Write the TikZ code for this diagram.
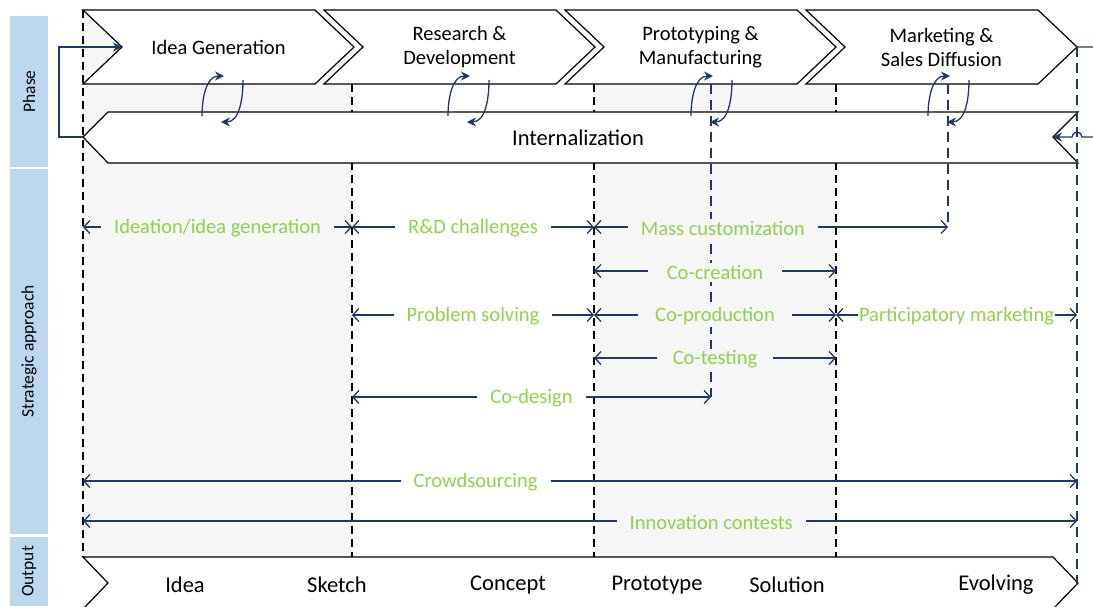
\documentclass[tikz,border=0pt]{standalone}
\usepackage{fontspec}
\setmainfont{Carlito}
\usetikzlibrary{arrows.meta}

\definecolor{navy}{RGB}{32,56,100}
\definecolor{leaf}{RGB}{146,208,80}
\definecolor{sidebar}{RGB}{189,215,238}
\definecolor{bandgray}{RGB}{246,246,246}

\begin{document}
\begin{tikzpicture}[x=1pt,y=1pt,
        font=\fontsize{20.5}{24}\selectfont,
        phasebox/.style={draw=black,line width=1.2pt,fill=white},
        sidelbl/.style={fill=sidebar,rotate=90,minimum height=38pt,inner sep=0,
            font=\fontsize{17.5}{19}\selectfont},
        divider/.style={line width=1.2pt,dash pattern=on 8pt off 5pt},
        link/.style={navy,line width=1.3pt,dash pattern=on 10pt off 6pt},
        loop/.style={navy,line width=1.3pt,-{Stealth[length=9pt,width=9pt]}},
        strat/.style={navy,line width=1.3pt,
            {Straight Barb[length=6pt,width=13pt]}-{Straight Barb[length=6pt,width=13pt]}},
        lbl/.style={text=leaf,fill=white,inner xsep=13pt,inner ysep=2pt,yshift=-1.5pt},
        lblg/.style={lbl,fill=bandgray},
        ]
        \useasboundingbox (0,0) rectangle (1093,-606);
        \clip (0,0) rectangle (1093,-606);

        % shaded columns and dividers
        \fill[bandgray] (83,-10) rectangle (352,-557);
        \fill[bandgray] (594,-84) rectangle (836,-557);
        \draw[divider] (83,-10) -- (83,-557);
        \foreach \x in {352,594,836}
            \draw[divider] (\x,-84) -- (\x,-557);

        % row headers
        \node[sidelbl,minimum width=151pt] (hphase) at (29,-91.5) {Phase};
        \node[sidelbl,minimum width=365pt] (hstrat) at (29,-351.5) {Strategic approach};
        \node[sidelbl,minimum width=69pt] (hout) at (29,-571.5) {Output};

        % phases
        \foreach \i/\txt in {1/{Idea Generation},2/{Research \&\\Development},
                3/{Prototyping \&\\Manufacturing},4/{Marketing \&\\Sales Diffusion}}{
            \pgfmathsetmacro\l{83+241*(\i-1)}
            \draw[phasebox] (\l,-10) -- ++(232,0) -- ++(39,-37) -- ++(-39,-37)
                -- ++(-232,0) -- ++(39,37) -- cycle;
            \coordinate (p\i-in) at (\l+39,-47);
            \coordinate (p\i-out) at (\l+271,-47);
            \node[align=center] (p\i) at (\l+135.5,-47.5) {\txt};
        }

        \draw[phasebox] (83,-137) -- (108,-112) -- (1078,-112) -- (1053,-137)
            -- (1078,-163) -- (108,-163) -- cycle;
        \coordinate (int-in) at (1053,-137);
        \coordinate (int-out) at (83,-137);
        \node[font=\fontsize{22.5}{24}\selectfont] (intl) at (578,-138) {Internalization};

        % outputs
        \draw[phasebox] (83,-557) -- (1053,-557) -- (1078,-583) -- (1053,-609)
            -- (83,-609) -- (108,-583) -- cycle;
        \foreach \n/\x/\txt in {o1/185/Idea,o2/337/Sketch,o3/508/Concept,
                o4/657/Prototype,o5/787/Solution,o6/996/Evolving}
            \node[font=\fontsize{22.5}{24}\selectfont] (\n) at (\x,-585) {\txt};

        % exchange between each phase and internalization
        \foreach \i/\c in {1/222,2/468,3/711,4/948}{
            \coordinate (m\i) at (\c,-84);
            \path (\c-20,-116) coordinate (up\i) (\c+2,-76) coordinate (upt\i)
                  (\c+21,-80) coordinate (dn\i) (\c-1,-122) coordinate (dnt\i);
            \draw[loop] (up\i) to[out=90,in=180] (upt\i);
            \draw[loop] (dn\i) to[out=-90,in=0] (dnt\i);
        }

        % columns and rows of the strategies
        \foreach \n/\x in {k0/83,k1/352,k2/594,k3/836,k4/1077}
            \coordinate (\n) at (\x,0);
        \foreach \n/\y in {r1/227,r2/271,r3/315,r4/358,r5/397,r6/481,r7/521}
            \coordinate (\n) at (0,-\y);

        \draw[link] (m3) -- (m3|-r5);
        \draw[link] (m4) -- (m4|-r1);
        \draw[link] (p4-out) -- (k4|-o6);

        \draw[strat] (k0|-r1) -- node[lblg] {Ideation/idea generation} (k1|-r1);
        \draw[strat] (k1|-r1) -- node[lbl] {R\&D challenges} (k2|-r1);
        \draw[strat] (k2|-r1) -- node[lblg,pos=0.364] {Mass customization} (m4|-r1);
        \draw[strat] (k2|-r2) -- node[lblg,inner xsep=19pt] {Co-creation} (k3|-r2);
        \draw[strat] (k1|-r3) -- node[lbl] {Problem solving} (k2|-r3);
        \draw[strat] (k2|-r3) -- node[lblg,inner xsep=17pt] {Co-production} (k3|-r3);
        \draw[strat] (k3|-r3) -- node[lbl,inner xsep=1pt] {Participatory marketing} (k4|-r3);
        \draw[strat] (k2|-r4) -- node[lblg,inner xsep=16pt] {Co-testing} (k3|-r4);
        \draw[strat] (k1|-r5) -- node[lbl] {Co-design} (m3|-r5);
        \draw[strat] (k0|-r6) -- node[lbl,pos=0.395] {Crowdsourcing} (k4|-r6);
        \draw[strat] (k0|-r7) -- node[lblg,pos=0.632] {Innovation contests} (k4|-r7);

        % feedback loops
        \draw[loop] (int-out) -- ++(-24,0) |- (p1-in);
        \draw[loop] (p4-out) -- (1107,-47) -- (1107,-137) -- (1082,-137)
            arc[start angle=0,end angle=180,radius=5] -- (int-in);
\end{tikzpicture}
\end{document}
